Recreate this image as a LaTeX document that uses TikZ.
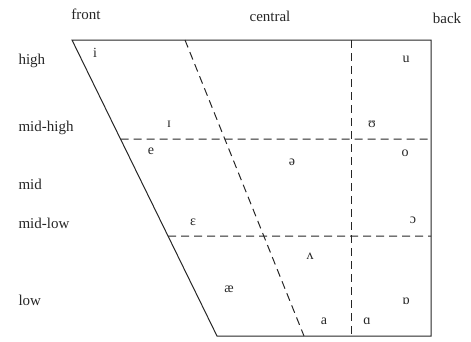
\documentclass[tikz,border=0pt]{standalone}
\usepackage{fontspec}
\setmainfont{Liberation Serif}
\usetikzlibrary{calc}

\begin{document}
\begin{tikzpicture}[
  x=1pt, y=-1pt,
  frame/.style={draw=black!85, line width=1pt},
  grid/.style={draw=black!85, line width=1pt, dash pattern=on 8pt off 5pt},
  axis/.style={text=black!85, font=\fontsize{15}{17}\selectfont},
  row/.style={axis, anchor=west},
  vowel/.style={text=black!85, font=\fontsize{14}{16}\selectfont}
]
\useasboundingbox (0,0) rectangle (471,341);
% corners of the vowel space
\coordinate (tl) at (72,40);
\coordinate (tr) at (431,40);
\coordinate (br) at (431,336);
\coordinate (bl) at (217,336);
% ends of the dashed lines
\coordinate (dtop) at (185,40);
\coordinate (dbot) at (304,336);
\coordinate (vtop) at (351,40);
\coordinate (vbot) at (351,336);
\coordinate (hhl) at ($(tl)!0.3345!(bl)$);
\coordinate (hhr) at (431,139);
\coordinate (hll) at ($(tl)!0.6622!(bl)$);
\coordinate (hlr) at (431,236);
\draw[frame] (tl) -- (tr) -- (br) -- (bl) -- cycle;
\draw[grid] (dtop) -- (dbot);
\draw[grid] (vtop) -- (vbot);
\draw[grid] (hhl) -- (hhr);
\draw[grid] (hll) -- (hlr);
% column and row labels
\node[axis] (front) at (86,14) {front};
\node[axis] (central) at (270,16) {central};
\node[axis] (back) at (447,18) {back};
\node[row] (high) at (15,61) {high};
\node[row] (midhigh) at (15,128) {mid-high};
\node[row] (mid) at (15,184) {mid};
\node[row] (midlow) at (15,223) {mid-low};
\node[row] (low) at (15,300) {low};
% vowels
\node[vowel] (i) at (95,53) {i};
\node[vowel] (I) at (169,124) {ɪ};
\node[vowel] (e) at (151,151) {e};
\node[vowel] (u) at (406,59) {u};
\node[vowel] (U) at (372,124) {ʊ};
\node[vowel] (o) at (405,153) {o};
\node[vowel] (schwa) at (292,162) {ə};
\node[vowel] (E) at (193,222) {ɛ};
\node[vowel] (ae) at (229,289) {æ};
\node[vowel] (O) at (413,220) {ɔ};
\node[vowel] (V) at (310,256) {ʌ};
\node[vowel] (Q) at (406,301) {ɒ};
\node[vowel] (a) at (324,321) {a};
\node[vowel] (A) at (367,321) {ɑ};
\end{tikzpicture}
\end{document}
